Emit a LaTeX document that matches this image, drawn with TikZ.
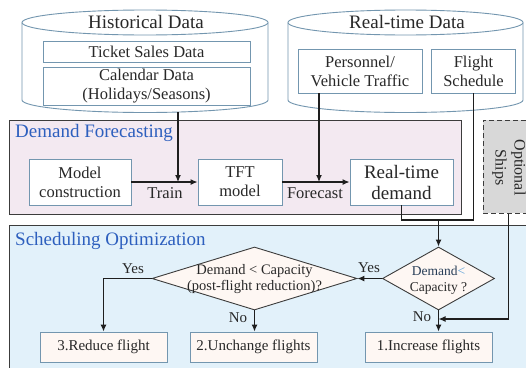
\documentclass[tikz,border=0pt]{standalone}
\usepackage{fontspec}
\setmainfont{Liberation Serif}
\usetikzlibrary{shapes.geometric,arrows.meta}

\definecolor{inkdark}{RGB}{30,30,30}
\definecolor{textdark}{RGB}{40,40,40}
\definecolor{edgeblue}{RGB}{115,150,175}
\definecolor{framegray}{RGB}{60,60,60}
\definecolor{titleblue}{RGB}{45,95,190}
\definecolor{forecastfill}{RGB}{243,233,241}
\definecolor{schedfill}{RGB}{226,241,250}
\definecolor{optfill}{RGB}{216,216,216}
\definecolor{softfill}{RGB}{254,247,243}
\definecolor{ltblue}{RGB}{90,160,215}
\definecolor{demandblue}{RGB}{40,62,88}

\newcommand\fsz[2]{\fontsize{#1}{#2}\selectfont}

\tikzset{
  cyl/.style={draw=edgeblue, fill=white, line width=0.9pt},
  databox/.style={draw=edgeblue, fill=white, line width=0.9pt, inner sep=0pt,
    align=center, text=textdark, font=\fsz{16.5}{19}},
  actbox/.style={draw=edgeblue, fill=softfill, line width=0.9pt, inner sep=0pt,
    align=center, text=textdark, font=\fsz{15}{17}},
  frame/.style={draw=framegray, line width=1pt, inner sep=0pt},
  frametitle/.style={anchor=west, text=titleblue, font=\fsz{19}{22}, inner sep=0pt},
  decision/.style={diamond, draw=framegray, fill=softfill, line width=0.9pt,
    inner sep=0pt},
  edgelabel/.style={text=textdark, font=\fsz{15}{17}, inner sep=0pt},
  flow/.style={draw=inkdark, line width=1.2pt},
  flowarrow/.style={flow, -{Latex[length=7pt,width=6pt]}},
}

\begin{document}
\begin{tikzpicture}[x=1pt,y=-1pt]
\clip (0,0) rectangle (526,367);
\fill[white] (0,0) rectangle (526,367);

% ---------- data sources (cylinders) ----------
\draw[cyl] (22,100) arc[start angle=180,end angle=360,x radius=123pt,y radius=12.5pt]
  -- (268,22.5) arc[start angle=0,end angle=180,x radius=123pt,y radius=12.5pt] -- cycle;
\draw[cyl] (22,22.5) arc[start angle=180,end angle=360,x radius=123pt,y radius=12.5pt];
\node[text=textdark, font=\fsz{19}{22}, inner sep=0pt] (histtitle) at (146,22) {Historical Data};
\coordinate (histout) at (178,112.3);

\draw[cyl] (288,100) arc[start angle=180,end angle=360,x radius=117.5pt,y radius=12.5pt]
  -- (523,22.5) arc[start angle=0,end angle=180,x radius=117.5pt,y radius=12.5pt] -- cycle;
\draw[cyl] (288,22.5) arc[start angle=180,end angle=360,x radius=117.5pt,y radius=12.5pt];
\node[text=textdark, font=\fsz{19}{22}, inner sep=0pt] (rttitle) at (407,22) {Real-time Data};

\node[databox, minimum width=207pt, minimum height=21pt] (ticket) at (146.5,51.5) {Ticket Sales Data};
\node[databox, minimum width=207pt, minimum height=38pt] (calendar) at (146.5,86) {Calendar Data\\(Holidays/Seasons)};
\node[databox, minimum width=124pt, minimum height=44pt] (traffic) at (360,71) {Personnel/\\Vehicle Traffic};
\node[databox, minimum width=84pt, minimum height=44pt] (flight) at (473.5,71) {Flight\\Schedule};

% ---------- demand forecasting stage ----------
\node[frame, fill=forecastfill, minimum width=452pt, minimum height=94pt] (forecastframe) at (235,167) {};
\node[frametitle] (forecasttitle) at (15,133) {Demand Forecasting};

\node[databox, minimum width=102pt, minimum height=46pt] (model) at (80,182) {Model\\construction};
\node[databox, minimum width=84pt, minimum height=46pt] (tft) at (240,182) {TFT\\model};
\node[databox, minimum width=103pt, minimum height=46pt, font=\fsz{19}{21}] (rtdemand) at (401.5,182) {Real-time\\demand};

% optional ship supply
\node[draw=framegray, fill=optfill, line width=1pt, dash pattern=on 5pt off 3pt,
  minimum width=51pt, minimum height=93pt, inner sep=0pt] (ships) at (508.5,166.5) {};
\node[rotate=-90, align=center, text=textdark, font=\fsz{16}{19}, inner sep=0pt] (shipstext) at (509,167.5) {Optional\\Ships};

% ---------- scheduling optimization stage ----------
\node[frame, fill=schedfill, minimum width=530pt, minimum height=150pt] (schedframe) at (274,300) {};
\node[frametitle] (schedtitle) at (15,241) {Scheduling Optimization};

\node[decision, minimum width=112pt, minimum height=63pt, aspect=1.78] (cap) at (438.5,278.5) {};
\node[align=center, font=\fsz{13.5}{16}, inner sep=0pt, text=textdark] (captext) at (438.5,280)
  {\textcolor{demandblue}{Demand}\textcolor{ltblue}{<}\\Capacity ?};

\node[decision, minimum width=205pt, minimum height=63pt, aspect=3.25] (post) at (254.5,278.5) {};
\node[align=center, font=\fsz{14.5}{16.5}, inner sep=0pt, text=textdark] (posttext) at (254.5,279)
  {Demand < Capacity\\(post-flight reduction)?};

\node[actbox, minimum width=127pt, minimum height=30pt] (reduce) at (103.5,347) {3.Reduce flight};
\node[actbox, minimum width=127pt, minimum height=30pt] (unchange) at (253.5,347) {2.Unchange flights};
\node[actbox, minimum width=127pt, minimum height=30pt] (increase) at (428.5,347) {1.Increase flights};

% ---------- connectors ----------
\draw[flowarrow] (model.east) -- (tft.west);
\draw[flowarrow] (tft.east) -- (rtdemand.west);
\draw[flowarrow] (histout) -- (histout |- model.east);
\coordinate (trafficout) at ([xshift=-41pt]traffic.south);
\draw[flowarrow] (trafficout) -- (trafficout |- tft.east);
\node[edgelabel, font=\fsz{16.5}{19}] (trainlbl) at (165,193) {Train};
\node[edgelabel, font=\fsz{16.5}{19}] (forecastlbl) at (315,193) {Forecast};

\coordinate (merge) at (438.5,220);
\draw[flow] (rtdemand.south) |- (merge) -| (flight.south);
\draw[flowarrow] (merge) -- (cap.north);

\draw[flowarrow] (cap.west) -- (post.east);
\node[edgelabel] (yes1) at (369,268) {Yes};
\draw[flowarrow] (post.west) -| (reduce.north);
\node[edgelabel] (yes2) at (133,269) {Yes};
\draw[flowarrow] (post.south) -- (post.south |- unchange.north);
\node[edgelabel] (no2) at (238,318) {No};
\draw[flowarrow] (cap.south) -- (cap.south |- increase.north);
\node[edgelabel] (no1) at (422,317) {No};

\coordinate (shipjoin) at (438.5,319);
\draw[flowarrow] (ships.south) |- (shipjoin);
\end{tikzpicture}
\end{document}
